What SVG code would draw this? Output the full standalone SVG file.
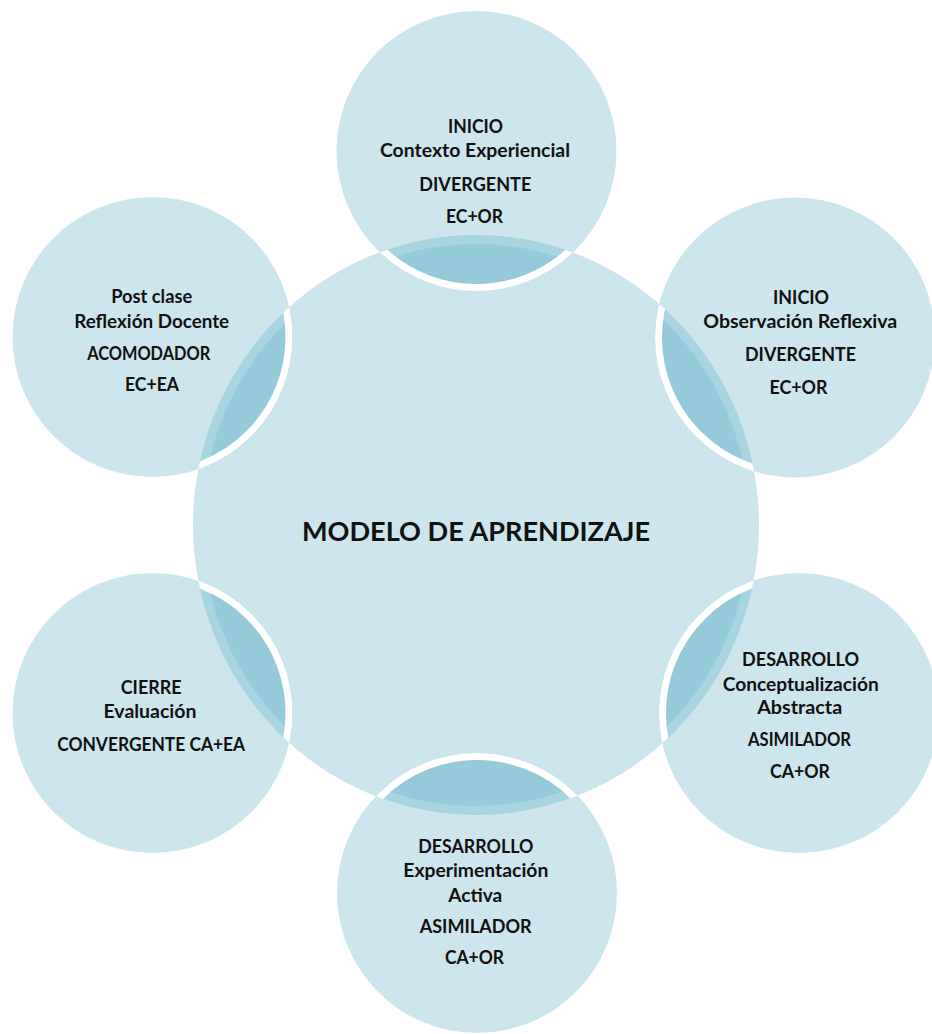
<svg xmlns="http://www.w3.org/2000/svg" width="932" height="1034" viewBox="0 0 932 1034">
  <style>
    .sat { fill: #cde6ee; }
    .ring { fill: none; stroke: #ffffff; stroke-width: 7; }
    .ov { fill: #94cad9; stroke: #a7d4e1; stroke-width: 9; }
    .t { font-family: Lato, "Noto Sans", "Liberation Sans", sans-serif; font-weight: bold; font-size: 18.5px; fill: #111111; text-anchor: middle; }
    .title { font-family: Lato, "Noto Sans", "Liberation Sans", sans-serif; font-weight: bold; font-size: 27px; fill: #111111; text-anchor: middle; }
  </style>
  <defs>
    <clipPath id="cc"><ellipse cx="476" cy="525" rx="283" ry="290"/></clipPath>
    <clipPath id="s1"><circle cx="476.5" cy="151" r="140"/></clipPath>
    <clipPath id="s2"><circle cx="795" cy="337.5" r="140"/></clipPath>
    <clipPath id="s3"><circle cx="799" cy="713" r="140"/></clipPath>
    <clipPath id="s4"><circle cx="477" cy="893" r="140"/></clipPath>
    <clipPath id="s5"><circle cx="152.5" cy="713" r="140"/></clipPath>
    <clipPath id="s6"><circle cx="152.5" cy="337" r="140"/></clipPath>
  </defs>
  <rect x="0" y="0" width="932" height="1034" fill="#ffffff"/>

  <g id="center">
    <ellipse cx="476" cy="525" rx="283" ry="290" fill="#cde6ee"/>
    <text class="title" x="476" y="541" textLength="348" lengthAdjust="spacingAndGlyphs">MODELO DE APRENDIZAJE</text>
  </g>

  <g id="node-inicio-contexto">
    <circle class="sat" cx="476.5" cy="151" r="140"/>
    <g clip-path="url(#s1)"><ellipse class="ov" cx="476" cy="525" rx="278.5" ry="285.5"/></g>
    <g clip-path="url(#cc)"><circle class="ring" cx="476.5" cy="151" r="136.5"/></g>
    <text class="t" x="475.5" y="133" textLength="55" lengthAdjust="spacingAndGlyphs">INICIO</text>
    <text class="t" x="475" y="157" textLength="190" lengthAdjust="spacingAndGlyphs">Contexto Experiencial</text>
    <text class="t" x="475.3" y="191" textLength="112" lengthAdjust="spacingAndGlyphs">DIVERGENTE</text>
    <text class="t" x="474.5" y="223" textLength="57" lengthAdjust="spacingAndGlyphs">EC+OR</text>
  </g>

  <g id="node-inicio-observacion">
    <circle class="sat" cx="795" cy="337.5" r="140"/>
    <g clip-path="url(#s2)"><ellipse class="ov" cx="476" cy="525" rx="278.5" ry="285.5"/></g>
    <g clip-path="url(#cc)"><circle class="ring" cx="795" cy="337.5" r="136.5"/></g>
    <text class="t" x="801" y="304" textLength="56" lengthAdjust="spacingAndGlyphs">INICIO</text>
    <text class="t" x="800.3" y="328" textLength="194" lengthAdjust="spacingAndGlyphs">Observación Reflexiva</text>
    <text class="t" x="800.5" y="361" textLength="111" lengthAdjust="spacingAndGlyphs">DIVERGENTE</text>
    <text class="t" x="798.5" y="394" textLength="58" lengthAdjust="spacingAndGlyphs">EC+OR</text>
  </g>

  <g id="node-desarrollo-conceptualizacion">
    <circle class="sat" cx="799" cy="713" r="140"/>
    <g clip-path="url(#s3)"><ellipse class="ov" cx="476" cy="525" rx="278.5" ry="285.5"/></g>
    <g clip-path="url(#cc)"><circle class="ring" cx="799" cy="713" r="136.5"/></g>
    <text class="t" x="800.5" y="666" textLength="117" lengthAdjust="spacingAndGlyphs">DESARROLLO</text>
    <text class="t" x="800.7" y="691" textLength="156" lengthAdjust="spacingAndGlyphs">Conceptualización</text>
    <text class="t" x="799.7" y="714" textLength="85" lengthAdjust="spacingAndGlyphs">Abstracta</text>
    <text class="t" x="799.5" y="746" textLength="103" lengthAdjust="spacingAndGlyphs">ASIMILADOR</text>
    <text class="t" x="800" y="778" textLength="60" lengthAdjust="spacingAndGlyphs">CA+OR</text>
  </g>

  <g id="node-desarrollo-experimentacion">
    <circle class="sat" cx="477" cy="893" r="140"/>
    <g clip-path="url(#s4)"><ellipse class="ov" cx="476" cy="525" rx="278.5" ry="285.5"/></g>
    <g clip-path="url(#cc)"><circle class="ring" cx="477" cy="893" r="136.5"/></g>
    <text class="t" x="475.8" y="853" textLength="115" lengthAdjust="spacingAndGlyphs">DESARROLLO</text>
    <text class="t" x="475.8" y="877" textLength="145" lengthAdjust="spacingAndGlyphs">Experimentación</text>
    <text class="t" x="475.3" y="902" textLength="54" lengthAdjust="spacingAndGlyphs">Activa</text>
    <text class="t" x="475.7" y="933" textLength="112" lengthAdjust="spacingAndGlyphs">ASIMILADOR</text>
    <text class="t" x="474.5" y="964" textLength="59" lengthAdjust="spacingAndGlyphs">CA+OR</text>
  </g>

  <g id="node-cierre">
    <circle class="sat" cx="152.5" cy="713" r="140"/>
    <g clip-path="url(#s5)"><ellipse class="ov" cx="476" cy="525" rx="278.5" ry="285.5"/></g>
    <g clip-path="url(#cc)"><circle class="ring" cx="152.5" cy="713" r="136.5"/></g>
    <text class="t" x="151.2" y="694" textLength="61" lengthAdjust="spacingAndGlyphs">CIERRE</text>
    <text class="t" x="150" y="718" textLength="93" lengthAdjust="spacingAndGlyphs">Evaluación</text>
    <text class="t" x="151.2" y="751" textLength="188" lengthAdjust="spacingAndGlyphs">CONVERGENTE CA+EA</text>
  </g>

  <g id="node-post-clase">
    <circle class="sat" cx="152.5" cy="337" r="140"/>
    <g clip-path="url(#s6)"><ellipse class="ov" cx="476" cy="525" rx="278.5" ry="285.5"/></g>
    <g clip-path="url(#cc)"><circle class="ring" cx="152.5" cy="337" r="136.5"/></g>
    <text class="t" x="151.7" y="303" textLength="81" lengthAdjust="spacingAndGlyphs">Post clase</text>
    <text class="t" x="151.7" y="328" textLength="155" lengthAdjust="spacingAndGlyphs">Reflexión  Docente</text>
    <text class="t" x="148.7" y="360" textLength="123" lengthAdjust="spacingAndGlyphs">ACOMODADOR</text>
    <text class="t" x="152" y="391" textLength="54" lengthAdjust="spacingAndGlyphs">EC+EA</text>
  </g>
</svg>
